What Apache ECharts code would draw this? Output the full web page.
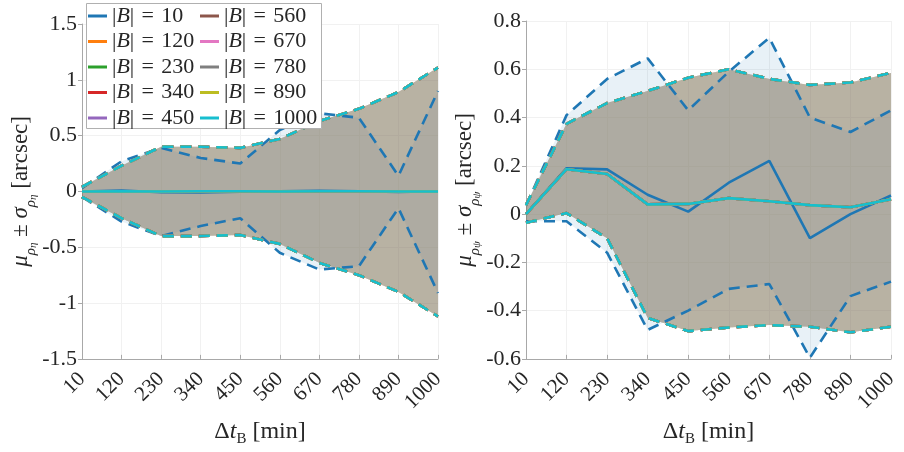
<!DOCTYPE html>
<html>
<head>
<meta charset="utf-8">
<script src="https://cdn.jsdelivr.net/npm/echarts@6/dist/echarts.min.js"></script>
<style>html,body{margin:0;padding:0;background:#fff}#c{width:904px;height:452px}</style>
</head>
<body>
<div id="c"></div>
<script>
// ---- data ----
const categories = ['10','120','230','340','450','560','670','780','890','1000'];
const bValues = [10,120,230,340,450,560,670,780,890,1000];

// left panel (rho_eta)
const etaMeanB10  = [0, 0.008, -0.008, -0.01, -0.003, 0.002, 0.006, 0.002, -0.004, 0.001];
const etaUpperB10 = [0.03, 0.27, 0.39, 0.30, 0.25, 0.55, 0.70, 0.66, 0.14, 0.90];
const etaLowerB10 = [-0.05, -0.27, -0.40, -0.31, -0.24, -0.55, -0.70, -0.67, -0.15, -0.91];
const etaMeanRest  = [0, 0.002, 0, 0.001, 0.001, -0.001, 0.002, 0.001, 0, 0];
const etaUpperRest = [0.04, 0.23, 0.40, 0.40, 0.39, 0.47, 0.63, 0.74, 0.89, 1.11];
const etaLowerRest = [-0.05, -0.24, -0.40, -0.40, -0.39, -0.47, -0.64, -0.75, -0.90, -1.12];

// right panel (rho_psi)
const psiMeanB10  = [0, 0.19, 0.185, 0.08, 0.01, 0.13, 0.22, -0.10, 0.0, 0.077];
const psiUpperB10 = [0.035, 0.41, 0.56, 0.645, 0.43, 0.59, 0.73, 0.40, 0.34, 0.43];
const psiLowerB10 = [-0.03, -0.03, -0.16, -0.48, -0.40, -0.31, -0.29, -0.595, -0.34, -0.28];
const psiMeanRest  = [0, 0.186, 0.166, 0.04, 0.042, 0.066, 0.053, 0.037, 0.028, 0.061];
const psiUpperRest = [0.037, 0.374, 0.46, 0.51, 0.565, 0.60, 0.56, 0.535, 0.545, 0.585];
const psiLowerRest = [-0.036, 0.004, -0.10, -0.43, -0.485, -0.47, -0.46, -0.467, -0.49, -0.467];

const leftTicks = [-1.5, -1, -0.5, 0, 0.5, 1, 1.5];
const rightTicks = [-0.6, -0.4, -0.2, 0, 0.2, 0.4, 0.6, 0.8];

const colors = ['#1f77b4','#ff7f0e','#2ca02c','#d62728','#9467bd','#8c564b','#e377c2','#7f7f7f','#bcbd22','#17becf'];

// ---- build ----
const serif = '"Liberation Serif", "DejaVu Serif", serif';
const names = bValues.map(b => '|B| = ' + b);
const series = [];

function addBand(ax, idx, mean, upper, lower) {
  const c = colors[idx];
  const stack = 'band' + ax + '_' + idx;
  series.push({
    type: 'line', xAxisIndex: ax, yAxisIndex: ax, name: 'lo' + ax + idx, stack: stack,
    stackStrategy: 'all', data: lower, symbol: 'none', silent: true, z: 1,
    lineStyle: { opacity: 0, width: 0 }
  });
  series.push({
    type: 'line', xAxisIndex: ax, yAxisIndex: ax, name: 'bd' + ax + idx, stack: stack,
    stackStrategy: 'all', data: upper.map((u, i) => u - lower[i]), symbol: 'none', silent: true, z: 1,
    lineStyle: { opacity: 0, width: 0 }, areaStyle: { color: c, opacity: 0.1 }
  });
}
function addLines(ax, idx, mean, upper, lower) {
  const c = colors[idx];
  [upper, lower].forEach((d, k) => {
    series.push({
      type: 'line', xAxisIndex: ax, yAxisIndex: ax, name: 'ds' + ax + idx + k, data: d,
      symbol: 'none', silent: true, z: 3,
      lineStyle: { color: c, width: 2.6, type: [11, 7] }
    });
  });
  series.push({
    type: 'line', xAxisIndex: ax, yAxisIndex: ax, name: ax === 0 ? names[idx] : 'm' + idx, data: mean,
    symbol: 'none', silent: true, z: 4, itemStyle: { color: c },
    lineStyle: { color: c, width: 2.6 }
  });
}
const panels = [
  [etaMeanB10, etaUpperB10, etaLowerB10, etaMeanRest, etaUpperRest, etaLowerRest],
  [psiMeanB10, psiUpperB10, psiLowerB10, psiMeanRest, psiUpperRest, psiLowerRest]
];
panels.forEach((p, ax) => {
  for (let i = 0; i < 10; i++) {
    if (i === 0) addBand(ax, i, p[0], p[1], p[2]); else addBand(ax, i, p[3], p[4], p[5]);
  }
  for (let i = 0; i < 10; i++) {
    if (i === 0) addLines(ax, i, p[0], p[1], p[2]); else addLines(ax, i, p[3], p[4], p[5]);
  }
});

const tickFmt = v => String(parseFloat(v.toFixed(2)));
const txt = '#262626';
function yAxis(ax, ticks, title) {
  return {
    type: 'value', gridIndex: ax, min: ticks[0], max: ticks[ticks.length - 1],
    interval: ax === 0 ? 0.5 : 0.2,
    axisLine: { show: true, onZero: false, lineStyle: { color: '#a8a8a8', width: 1 } },
    axisTick: { show: true, inside: false, length: 4, lineStyle: { color: '#a8a8a8' } },
    splitLine: { show: true, lineStyle: { color: '#f1f1f1', width: 1 } },
    axisLabel: { formatter: tickFmt, color: txt, fontFamily: serif, fontSize: 22, margin: 5 },
    name: title, nameLocation: 'middle', nameRotate: 90, nameGap: ax === 0 ? 42 : 34,
    nameTextStyle: {
      color: txt, fontFamily: serif, fontSize: 23,
      rich: {
        m: { fontFamily: serif, fontSize: 23, fontStyle: 'italic', lineHeight: 34, verticalAlign: 'middle', color: txt },
        r: { fontFamily: serif, fontSize: 23, lineHeight: 34, verticalAlign: 'middle', color: txt },
        s: { fontFamily: serif, fontSize: 15, fontStyle: 'italic', lineHeight: 22, verticalAlign: 'bottom', color: txt },
        ss: { fontFamily: serif, fontSize: 11, fontStyle: 'italic', lineHeight: 14, verticalAlign: 'bottom', color: txt }
      }
    }
  };
}
function xAxis(ax) {
  return {
    type: 'category', gridIndex: ax, data: categories, boundaryGap: false,
    axisLine: { show: true, onZero: false, lineStyle: { color: '#a8a8a8', width: 1 } },
    axisTick: { show: true, inside: true, length: 4, alignWithLabel: true, lineStyle: { color: '#a8a8a8' } },
    splitLine: { show: true, lineStyle: { color: '#f1f1f1', width: 1 } },
    axisLabel: { interval: 0, rotate: 45, color: txt, fontFamily: serif, fontSize: 21, margin: 17 },
    name: '{m|Δ}{t|t}{s|B}{m| [min]}', nameLocation: 'middle', nameGap: 58,
    nameTextStyle: {
      rich: {
        m: { fontFamily: serif, fontSize: 24, lineHeight: 30, verticalAlign: 'middle', color: txt },
        t: { fontFamily: serif, fontSize: 24, fontStyle: 'italic', lineHeight: 30, verticalAlign: 'middle', color: txt },
        s: { fontFamily: serif, fontSize: 15, lineHeight: 20, verticalAlign: 'bottom', color: txt }
      }
    }
  };
}
const legendText = {
  fontFamily: serif, fontSize: 22, color: txt, lineHeight: 20,
  rich: { i: { fontFamily: serif, fontSize: 22, fontStyle: 'italic', lineHeight: 20, color: txt } }
};
const legFmt = n => n.replace(' = ', '\u2004=\u2004').replace('B', '{i|B}');
const option = {
  animation: false,
  backgroundColor: '#ffffff',
  grid: [
    { left: 82, right: 466, top: 24, bottom: 80 },
    { left: 526, right: 13, top: 21, bottom: 77 }
  ],
  xAxis: [xAxis(0), xAxis(1)],
  yAxis: [
    yAxis(0, leftTicks, '{m|μ}{s|ρ}{ss|η}{r| ± }{m|σ}{s|ρ}{ss|η}{r| [arcsec]}'),
    yAxis(1, rightTicks, '{m|μ}{s|ρ}{ss|ψ}{r| ± }{m|σ}{s|ρ}{ss|ψ}{r| [arcsec]}')
  ],
  legend: [
    { data: names.slice(0, 5), orient: 'vertical', left: 88, top: 5, padding: 0, itemWidth: 19, itemHeight: 3, itemGap: 3.5,
      icon: 'rect', textStyle: legendText, formatter: legFmt, selectedMode: false, z: 10 },
    { data: names.slice(5), orient: 'vertical', left: 200, top: 5, padding: 0, itemWidth: 19, itemHeight: 3, itemGap: 3.5,
      icon: 'rect', textStyle: legendText, formatter: legFmt, selectedMode: false, z: 10 }
  ],
  graphic: [{
    type: 'rect', left: 86, top: 3, shape: { width: 235, height: 125 }, z: 5,
    style: { fill: '#ffffff', stroke: '#b0b0b0', lineWidth: 1 }
  }],
  series: series
};
const chart = echarts.init(document.getElementById('c'), null, { renderer: 'canvas' });
chart.setOption(option);
</script>
</body>
</html>
